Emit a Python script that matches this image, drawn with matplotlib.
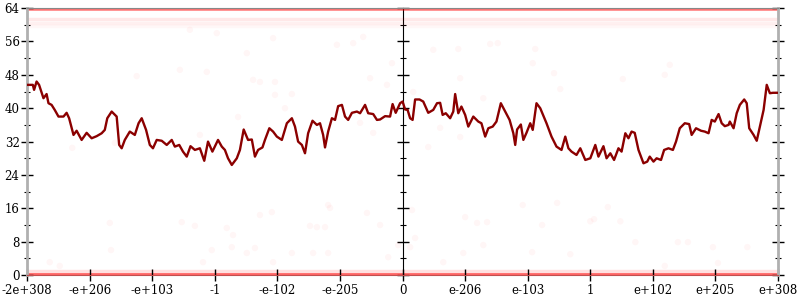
import matplotlib
matplotlib.use('Agg')
import matplotlib.pyplot as plt  # library for plotting charts

# x positions are ordinal positions on the float scale, 0 = the value 0
tick_pos = [-6, -5, -4, -3, -2, -1, 0, 1, 2, 3, 4, 5, 6]
tick_labels = ['-2e+308', '-e+206', '-e+103', '-1', '-e-102', '-e-205', '0',
               'e-206', 'e-103', '1', 'e+102', 'e+205', 'e+308']
y_ticks = [0, 8, 16, 24, 32, 40, 48, 56, 64]

# average error line (bits)
line_x = [-6.00, -5.91, -5.89, -5.85, -5.81, -5.74, -5.69, -5.66, -5.61, -5.56, -5.50, -5.42, -5.37,
          -5.33, -5.26, -5.21, -5.13, -5.05, -4.97, -4.89, -4.81, -4.76, -4.72, -4.65, -4.57, -4.53,
          -4.49, -4.44, -4.36, -4.28, -4.22, -4.17, -4.10, -4.04, -3.99, -3.93, -3.85, -3.77, -3.69,
          -3.64, -3.57, -3.51, -3.45, -3.39, -3.32, -3.24, -3.17, -3.11, -3.04, -2.95, -2.89, -2.84,
          -2.79, -2.73, -2.65, -2.60, -2.54, -2.47, -2.41, -2.36, -2.31, -2.24, -2.20, -2.13, -2.07,
          -2.01, -1.93, -1.85, -1.77, -1.72, -1.67, -1.61, -1.56, -1.51, -1.44, -1.37, -1.32, -1.27,
          -1.24, -1.19, -1.13, -1.08, -1.03, -0.97, -0.92, -0.87, -0.81, -0.73, -0.68, -0.60, -0.55,
          -0.47, -0.41, -0.36, -0.28, -0.20, -0.16, -0.11, -0.04, 0.00, 0.04, 0.08, 0.12, 0.16,
          0.20, 0.27, 0.33, 0.41, 0.49, 0.55, 0.60, 0.64, 0.69, 0.76, 0.81, 0.84, 0.89, 0.94,
          1.00, 1.05, 1.13, 1.21, 1.26, 1.32, 1.37, 1.44, 1.50, 1.57, 1.64, 1.71, 1.77, 1.80,
          1.83, 1.89, 1.93, 1.98, 2.04, 2.08, 2.14, 2.20, 2.30, 2.38, 2.46, 2.54, 2.60, 2.65,
          2.70, 2.78, 2.84, 2.92, 3.00, 3.08, 3.13, 3.21, 3.26, 3.32, 3.38, 3.45, 3.50, 3.56,
          3.61, 3.66, 3.71, 3.77, 3.85, 3.91, 3.95, 4.01, 4.06, 4.13, 4.18, 4.25, 4.32, 4.37,
          4.43, 4.51, 4.58, 4.62, 4.69, 4.77, 4.83, 4.89, 4.94, 4.99, 5.05, 5.10, 5.15, 5.21,
          5.23, 5.29, 5.34, 5.39, 5.46, 5.50, 5.54, 5.61, 5.66, 5.70, 5.77, 5.82, 5.87, 5.92, 6.00]
line_y = [45.6, 45.6, 44.4, 46.4, 45.6, 42.4, 43.4, 41.2, 40.8, 39.6, 38.0, 38.0, 38.9,
          37.6, 33.6, 34.6, 32.4, 34.1, 32.8, 33.3, 34.0, 34.8, 37.6, 39.2, 38.0, 31.2,
          30.4, 32.4, 34.4, 33.6, 36.4, 37.6, 34.8, 31.2, 30.4, 32.4, 32.2, 31.2, 32.4,
          30.8, 31.2, 29.6, 28.4, 30.9, 30.0, 30.4, 27.4, 32.0, 29.6, 32.4, 30.8, 30.0,
          28.0, 26.4, 28.0, 30.0, 34.9, 32.4, 32.5, 28.4, 30.0, 30.6, 32.4, 35.2, 34.4,
          33.2, 32.4, 36.4, 37.6, 35.6, 32.0, 31.2, 29.2, 34.0, 37.0, 36.0, 36.4, 33.6,
          30.6, 34.4, 37.6, 37.2, 40.5, 40.8, 38.0, 37.2, 38.9, 39.2, 38.8, 40.8, 38.8,
          38.6, 37.2, 37.3, 38.1, 38.0, 41.0, 38.9, 41.2, 41.6, 39.7, 39.6, 37.6, 37.2,
          42.1, 42.1, 41.6, 38.9, 39.6, 41.2, 41.3, 38.4, 38.8, 37.6, 39.2, 43.4, 38.8, 40.4,
          38.4, 35.6, 38.0, 36.8, 36.4, 33.2, 35.2, 35.6, 36.8, 41.2, 39.2, 37.2, 34.0, 31.2,
          34.9, 36.1, 32.4, 34.1, 36.4, 34.8, 41.2, 40.0, 36.4, 33.2, 30.8, 30.0, 33.2, 30.4,
          29.6, 28.8, 30.4, 27.6, 28.0, 31.2, 28.4, 30.9, 28.0, 29.2, 27.6, 30.4, 29.6, 34.0,
          32.8, 34.4, 34.1, 30.0, 26.8, 27.2, 28.4, 27.2, 28.0, 27.6, 30.0, 30.4, 30.0, 32.0,
          35.2, 36.4, 36.2, 33.6, 35.2, 34.6, 34.4, 34.0, 37.2, 36.8, 38.6, 36.4, 35.7, 36.0,
          36.8, 35.2, 38.8, 40.8, 42.1, 41.2, 35.2, 33.6, 32.2, 34.9, 39.6, 45.6, 43.6, 43.7, 43.7]

# scattered individual sample errors (sparse ones)
pts_x = [-3.56, -3.13, -4.25, -2.39, -2.28, -2.04, -2.04, -1.77, -1.88, -2.63, -0.68, -0.47,
         -0.52, -0.25, -0.17, -2.49, -0.79, -1.05, -2.07, -2.97, -3.40, -0.63, -3.24, -5.28,
         -4.60, 0.49, 0.89, 1.40, 1.52, 2.12, 2.08, 0.92, 2.42, 3.52, 2.52, 1.29, 4.19, 4.27,
         0.17, 0.60, 0.92, 0.41, -4.68, -4.66, -3.53, -3.32, -2.81, -2.71, -3.05, -2.73, -2.49,
         -2.36, -2.07, -1.77, -1.43, -1.19, -1.48, -1.37, -1.24, -1.16, -1.19, -0.57, -0.36,
         -0.23, -2.28, -2.09, -5.64, -5.48, -3.19, -0.07, 0.15, 0.20, 0.12, 1.00, 1.19, 1.35,
         1.29, 0.97, 1.92, 2.23, 2.07, 2.47, 2.68, 3.00, 3.06, 3.28, 3.48, 3.72, 4.40, 4.56,
         4.96, 5.04, 5.51, 4.19, 0.65]
pts_y = [49.2, 48.7, 47.7, 46.8, 46.3, 46.3, 43.2, 43.4, 40.0, 37.9, 36.5, 34.1,
         47.2, 45.6, 50.8, 53.2, 55.6, 55.2, 56.8, 58.0, 58.8, 57.1, 33.6, 30.5,
         31.7, 54.0, 54.2, 55.4, 55.6, 54.2, 50.8, 47.2, 48.4, 47.0, 44.6, 42.4, 48.0, 50.4,
         43.9, 35.3, 33.1, 30.7, 12.5, 6.0, 12.7, 11.8, 11.3, 9.6, 6.0, 6.7, 5.3,
         6.5, 3.1, 5.3, 5.3, 5.3, 11.8, 11.5, 11.5, 16.1, 16.8, 14.9, 12.0,
         4.3, 14.4, 15.1, 3.1, 2.2, 3.1, 7.2, 15.6, 8.9, 6.7, 13.9, 12.5, 12.7,
         7.2, 5.3, 16.8, 12.0, 5.5, 17.3, 5.0, 12.9, 13.4, 16.3, 12.9, 7.9, 7.9, 7.9,
         6.7, 2.9, 6.7, 2.2, 3.1]

# dense rows of samples (bits) and how strong they look
band_levels = [63.8, 61.3, 60.5, 59.8, 1.0, 0.3]
band_alpha = [0.55, 0.09, 0.06, 0.03, 0.12, 0.6]
band_width = [1.8, 2.5, 2.5, 2.5, 2.5, 2.0]

fig, ax = plt.subplots(figsize=(8, 3), dpi=100)
fig.subplots_adjust(left=0.034, right=0.9725, top=0.973, bottom=0.083)

for level, a, w in zip(band_levels, band_alpha, band_width):
    ax.plot([tick_pos[0], tick_pos[-1]], [level, level], color='red', alpha=a, lw=w,
            solid_capstyle='butt', zorder=1)

ax.scatter(pts_x, pts_y, s=22, color='red', alpha=0.035, edgecolors='none', zorder=2)
ax.plot(line_x, line_y, color='#8b0000', lw=1.7, zorder=3)

ax.set_xlim(tick_pos[0], tick_pos[-1])
ax.set_ylim(0, 64)
ax.set_xticks(tick_pos)
ax.set_xticklabels(tick_labels)
ax.set_yticks(y_ticks)
ax.set_yticks([v + 4 for v in y_ticks[:-1]], minor=True)

for side in ['left', 'right']:
    ax.spines[side].set_color('#b0b0b0')
    ax.spines[side].set_linewidth(2)
ax.spines['top'].set_color('#888888')
ax.spines['bottom'].set_color('#c05050')

ax.tick_params(axis='both', which='major', direction='inout', length=9, width=1,
               labelsize=8.5, colors='black')
ax.tick_params(axis='y', which='both', right=True, direction='inout')
ax.tick_params(axis='y', which='minor', length=5, width=0.8)
ax.tick_params(axis='x', pad=2)
ax.tick_params(axis='y', pad=1)
for lab in ax.get_xticklabels() + ax.get_yticklabels():
    lab.set_family('DejaVu Serif')

# the axis at zero in the middle, ticks only
mid = ax.secondary_yaxis(0.5)
mid.spines['left'].set_color('#b0b0b0')
mid.spines['left'].set_linewidth(2)
mid.set_yticks(y_ticks)
mid.set_yticks([v + 4 for v in y_ticks[:-1]], minor=True)
mid.set_yticklabels([])
mid.tick_params(which='major', direction='inout', length=9, width=1,
                labelleft=False, labelright=False)
mid.tick_params(which='minor', direction='inout', length=5, width=0.8)

fig.savefig('out.png', dpi=100)
